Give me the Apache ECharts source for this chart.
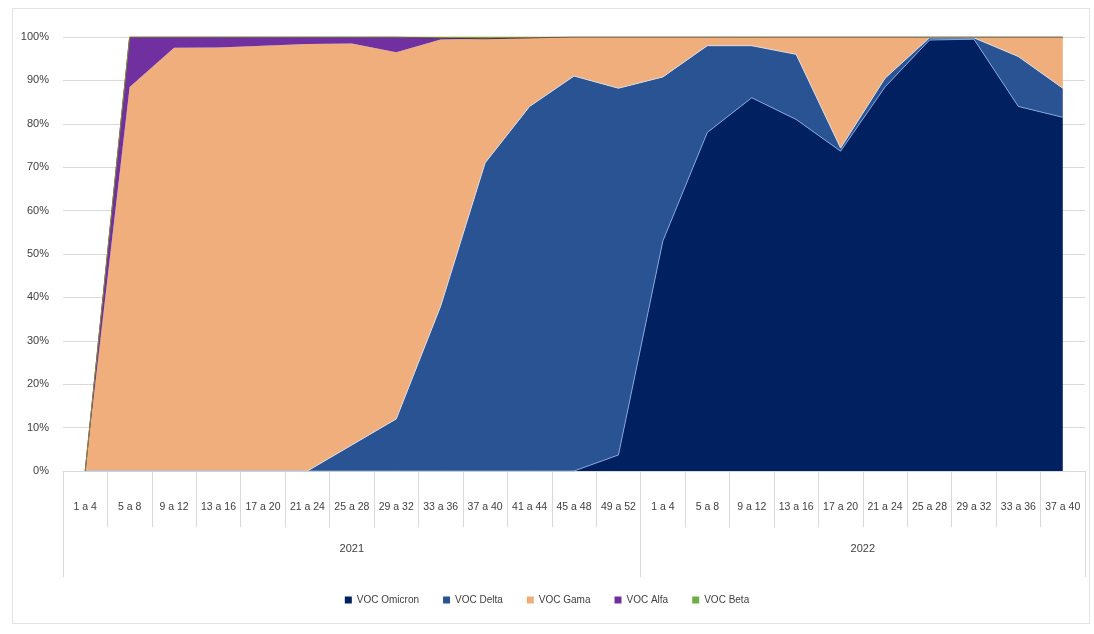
<!DOCTYPE html>
<html>
<head>
<meta charset="utf-8">
<script src="https://cdn.jsdelivr.net/npm/echarts@6/dist/echarts.min.js"></script>
<style>
  html, body { margin: 0; padding: 0; background: #ffffff; }
  #wrap { position: relative; width: 1094px; height: 634px; }
  #chart { width: 1094px; height: 634px; }
  /* thin frame around the chart area */
  #frame {
    position: absolute; left: 12px; top: 8px; width: 1076px; height: 614px;
    border: 1px solid #e3e3e3; pointer-events: none;
  }
</style>
</head>
<body>
<div id="wrap">
  <div id="chart"></div>
  <div id="frame"></div>
</div>
<script>
// Four-week periods (epidemiological weeks), grouped by year
const periods = [
  '1 a 4', '5 a 8', '9 a 12', '13 a 16', '17 a 20', '21 a 24', '25 a 28',
  '29 a 32', '33 a 36', '37 a 40', '41 a 44', '45 a 48', '49 a 52',
  '1 a 4', '5 a 8', '9 a 12', '13 a 16', '17 a 20', '21 a 24', '25 a 28',
  '29 a 32', '33 a 36', '37 a 40'
];
const years = ['2021', '2022'];
const periodsPerYear = [13, 10];

// Share of sequenced samples per variant of concern (%)
const omicron = [0, 0, 0, 0, 0, 0, 0, 0, 0, 0, 0, 0, 3.7,
                 53, 78, 86, 81, 73.7, 88.5, 99.3, 99.5, 84, 81.5];
const delta   = [0, 0, 0, 0, 0, 0, 6, 12, 38, 71, 84, 91, 84.5,
                 37.8, 20, 12, 15, 0.7, 2, 0.5, 0.3, 11.5, 6.7];
const gama    = [0, 88.5, 97.5, 97.6, 98, 98.4, 92.5, 84.5, 61.4, 28.6, 15.8, 9, 11.8,
                 9.2, 2, 2, 4, 25.6, 9.5, 0.2, 0.2, 4.5, 11.8];
const alfa    = [0, 11.5, 2.5, 2.4, 2, 1.6, 1.5, 3.5, 0.3, 0, 0, 0, 0,
                 0, 0, 0, 0, 0, 0, 0, 0, 0, 0];
const beta    = [0, 0, 0, 0, 0, 0, 0, 0, 0.3, 0.4, 0.2, 0, 0,
                 0, 0, 0, 0, 0, 0, 0, 0, 0, 0];

const yTicks = [0, 10, 20, 30, 40, 50, 60, 70, 80, 90, 100];

const FONT = '"Liberation Sans", Arial, sans-serif';
const TEXT = '#404040';
const GRIDLINE = '#d9d9d9';

// Year group boundaries and centres on a 0..N scale of period slots
const yearEdges = [0];
const yearCentres = [];
periodsPerYear.forEach((n) => {
  const start = yearEdges[yearEdges.length - 1];
  yearCentres.push(start + n / 2);
  yearEdges.push(start + n);
});

function areaSeries(name, data, color, line) {
  return {
    name: name,
    type: 'line',
    stack: 'share',
    data: data,
    symbol: 'none',
    silent: true,
    lineStyle: line ? { width: 1, color: line } : { width: 0 },
    areaStyle: { color: color, opacity: 1 },
    itemStyle: { color: color }
  };
}

const chart = echarts.init(document.getElementById('chart'), null, { renderer: 'canvas' });
chart.setOption({
  animation: false,
  backgroundColor: '#ffffff',
  grid: { left: 63, right: 9, top: 37, bottom: 163, containLabel: false },
  legend: {
    bottom: 24,
    left: 'center',
    icon: 'rect',
    itemWidth: 7,
    itemHeight: 7,
    itemGap: 24,
    textStyle: { fontFamily: FONT, fontSize: 10, color: TEXT },
    data: ['VOC Omicron', 'VOC Delta', 'VOC Gama', 'VOC Alfa', 'VOC Beta']
  },
  xAxis: [
    {
      type: 'category',
      data: periods,
      boundaryGap: true,
      axisLine: { show: true, lineStyle: { color: GRIDLINE } },
      axisTick: { show: true, interval: 0, length: 56, lineStyle: { color: GRIDLINE } },
      axisLabel: { interval: 0, margin: 31, fontFamily: FONT, fontSize: 10.5, color: TEXT }
    },
    {
      type: 'value',
      position: 'bottom',
      min: 0,
      max: periods.length,
      axisLine: { show: false },
      splitLine: { show: false },
      axisTick: { show: true, customValues: yearEdges, length: 106, lineStyle: { color: GRIDLINE } },
      axisLabel: {
        customValues: yearCentres,
        margin: 72,
        fontFamily: FONT,
        fontSize: 11,
        color: TEXT,
        formatter: function (v) {
          const idx = yearCentres.indexOf(v);
          return idx >= 0 ? years[idx] : '';
        }
      }
    }
  ],
  yAxis: {
    type: 'value',
    min: yTicks[0],
    max: yTicks[yTicks.length - 1],
    interval: yTicks[1] - yTicks[0],
    axisLine: { show: false },
    axisTick: { show: false },
    splitLine: { show: true, lineStyle: { color: GRIDLINE } },
    axisLabel: { margin: 14, fontFamily: FONT, fontSize: 11, color: TEXT, formatter: '{value}%' }
  },
  series: [
    areaSeries('VOC Omicron', omicron, '#002060', '#7fa3d9'),
    areaSeries('VOC Delta', delta, '#2a5394', '#d5d9e3'),
    areaSeries('VOC Gama', gama, '#f0ae7c', null),
    areaSeries('VOC Alfa', alfa, '#7030a0', '#4a2a55'),
    areaSeries('VOC Beta', beta, '#70ad47', '#8a8a3c')
  ]
});
</script>
</body>
</html>
